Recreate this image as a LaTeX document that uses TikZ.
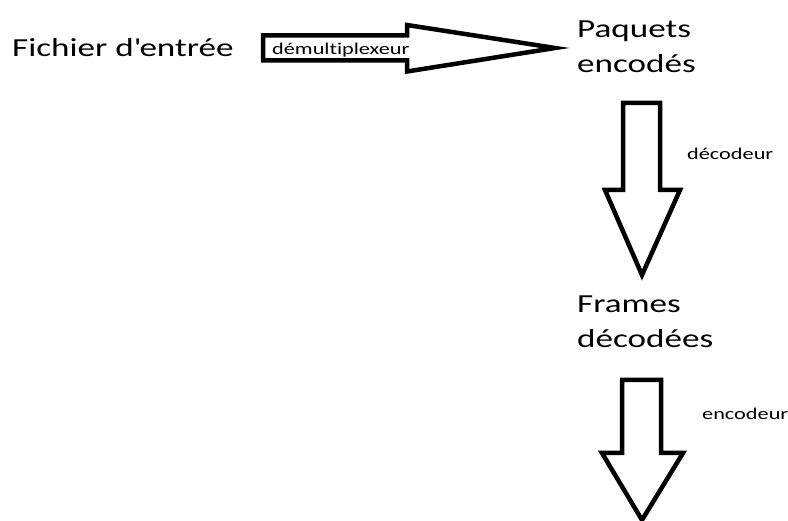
\documentclass[tikz,border=0pt]{standalone}
\usepackage{fontspec}
\setmainfont[FakeStretch=1.35, Ligatures={TeX,NoCommon}]{Carlito}
\usetikzlibrary{calc}

\begin{document}
\begin{tikzpicture}[
    x=1pt, y=-1pt,
    etape/.style={inner sep=0pt, anchor=base west, align=left,
                  font=\fontsize{26}{35}\selectfont},
    action/.style={inner sep=0pt, anchor=base west,
                   font=\fontsize{16.5}{20}\selectfont},
    fleche/.style={draw=black, fill=white, line width=4.5pt, line join=miter}
]
    \useasboundingbox (0,0) rectangle (788,521);

    % Etapes (texte), ancre sur la derniere ligne
    \node[etape] (fichier) at (12,57) {Fichier d\textquotesingle{}entrée};
    \node[etape] (paquets) at (577,73) {Paquets\\encodés};
    \node[etape] (frames) at (577,348) {Frames\\décodées};

    % Fleche horizontale : fichier -> paquets
    \coordinate (demuxA) at (263,48);
    \coordinate (demuxB) at (555,48);
    \draw[fleche] (demuxA) ++(0,-12.5) -- ++(144,0) -- ++(0,-10.5) -- (demuxB)
                  -- ++(-148,23.5) -- ++(0,-11) -- ++(-144,0) -- cycle;
    \node[action] (demux) at (272,55) {démultiplexeur};

    % Fleche verticale : paquets -> frames
    \coordinate (decA) at (641.5,103);
    \coordinate (decB) at (642,275);
    \draw[fleche] (decA) ++(-18.5,0) -- ++(37,0) -- ++(0,87) -- ++(20,0) -- (decB)
                  -- ++(-37,-85) -- ++(18,0) -- cycle;
    \node[action] (decodeur) at (687,160) {décodeur};

    % Fleche verticale : frames -> sortie
    \coordinate (encA) at (641.5,380);
    \coordinate (encB) at (642,520);
    \draw[fleche] (encA) ++(-19.5,0) -- ++(39,0) -- ++(0,73) -- ++(22,0) -- (encB)
                  -- ++(-40,-67) -- ++(20,0) -- cycle;
    \node[action] (encodeur) at (702,420) {encodeur};
\end{tikzpicture}
\end{document}
